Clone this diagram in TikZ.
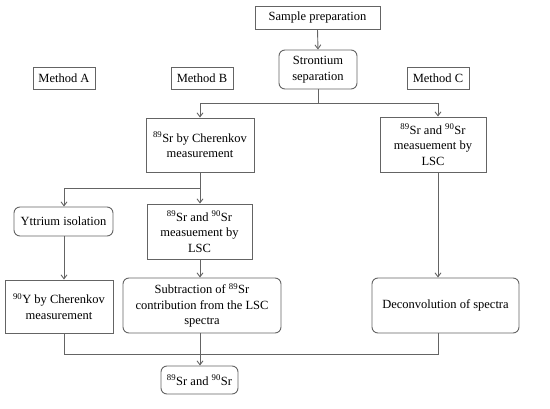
\documentclass[tikz,border=0pt]{standalone}
\usepackage{fontspec}
\setmainfont{Liberation Serif}
\usetikzlibrary{arrows.meta}
\definecolor{linegray}{RGB}{100,100,100}
\newcommand{\iso}[1]{\textsuperscript{#1}}
\begin{document}
\begin{tikzpicture}[x=1pt,y=1pt,
  box/.style={draw=linegray, line width=0.9pt, fill=white, inner sep=2pt, align=center,
    font=\fontsize{12.5}{15.5}\selectfont, text=black},
  rbox/.style={box, rounded corners=6pt},
  conn/.style={draw=linegray, line width=0.9pt},
  arr/.style={conn, -{Straight Barb[length=4pt,width=6pt]}}]
\useasboundingbox (0,0) rectangle (550,-409);
\node[box, minimum width=125, minimum height=23] (sample) at (317.5,-17.5) {Sample preparation};
\node[rbox, minimum width=78, minimum height=39] (stron) at (318,-69.5) {Strontium\\separation};
\node[box, minimum width=62, minimum height=22] (ma) at (64,-78) {Method A};
\node[box, minimum width=62, minimum height=22] (mb) at (202,-78) {Method B};
\node[box, minimum width=62, minimum height=22] (mc) at (438,-78) {Method C};
\node[box, minimum width=108, minimum height=54] (cher) at (200,-145) {\iso{89}Sr by Cherenkov\\measurement};
\node[box, minimum width=106, minimum height=55] (clsc) at (433,-144.5) {\iso{89}Sr and \iso{90}Sr\\measuement by\\LSC};
\node[rbox, minimum width=99, minimum height=29] (ytt) at (63.5,-221.5) {Yttrium isolation};
\node[box, minimum width=105, minimum height=55] (blsc) at (199.5,-231.5) {\iso{89}Sr and \iso{90}Sr\\measuement by\\LSC};
\node[box, minimum width=108, minimum height=53] (ycher) at (59,-306.5) {\iso{90}Y by Cherenkov\\measurement};
\node[rbox, minimum width=158, minimum height=55] (sub) at (202,-305.5) {Subtraction of \iso{89}Sr\\contribution from the LSC\\spectra};
\node[rbox, minimum width=147, minimum height=55] (dec) at (445.5,-305.5) {Deconvolution of spectra};
\node[rbox, minimum width=77, minimum height=28] (fin) at (199.5,-380) {\iso{89}Sr and \iso{90}Sr};
\coordinate (xB) at (200,0);
\coordinate (xC) at (438,0);
\coordinate (xA) at (64,0);
\coordinate (j1) at (318,-103);
\coordinate (j2) at (200,-188);
\coordinate (j3) at (200,-354);
% connectors
\draw[arr] (sample.south) -- (stron.north);
\draw[conn] (stron.south) -- (j1);
\draw[arr] (j1) -| (xB |- cher.north);
\draw[arr] (j1) -| (xC |- clsc.north);
\draw[conn] (cher.south -| j2) -- (j2);
\draw[arr] (j2) -| (xA |- ytt.north);
\draw[arr] (j2) -- (blsc.north -| j2);
\draw[arr] (ytt.south -| xA) -- (ycher.north -| xA);
\draw[arr] (blsc.south -| j2) -- (sub.north -| j2);
\draw[arr] (clsc.south -| xC) -- (dec.north -| xC);
\draw[conn] (ycher.south -| xA) |- (j3);
\draw[conn] (dec.south -| xC) |- (j3);
\draw[arr] (sub.south -| j3) -- (fin.north -| j3);
\end{tikzpicture}
\end{document}
